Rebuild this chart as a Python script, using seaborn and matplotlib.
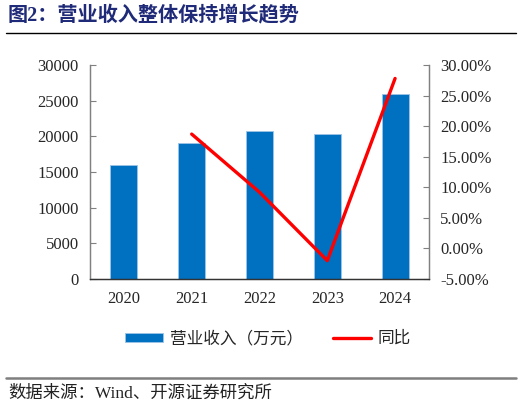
import matplotlib
matplotlib.use("Agg")
import matplotlib.pyplot as plt
from matplotlib.lines import Line2D
from matplotlib.patches import Patch
from matplotlib.ticker import FuncFormatter, FixedLocator
import seaborn as sns
import pandas as pd

# dados do gráfico
years = ["2020", "2021", "2022", "2023", "2024"]
revenue = [16000, 19000, 20750, 20330, 26000]
yoy_years = ["2021", "2022", "2023", "2024"]
yoy = [18.7, 9.2, -2.0, 27.8]

sns.set_style("white")
plt.rcParams["font.family"] = ["Liberation Serif", "Noto Sans CJK SC"]

df = pd.DataFrame({"year": years, "revenue": revenue})
df_line = pd.DataFrame({"pos": [years.index(y) for y in yoy_years], "yoy": yoy})

fig = plt.figure(figsize=(5.22, 4.07), dpi=100)
ax = fig.add_axes([0.1724, 0.3145, 0.6494, 0.5258])

sns.barplot(data=df, x="year", y="revenue", color="#0070C0", saturation=1,
            width=0.4, edgecolor="#9DC3E6", linewidth=0.6, ax=ax)
ax.set_xlim(-0.5, 4.5)
ax.set_ylim(0, 30000)
ax.set_yticks(range(0, 30001, 5000))
ax.set_xlabel("")
ax.set_ylabel("")

ax2 = ax.twinx()
sns.lineplot(data=df_line, x="pos", y="yoy", color="#FF0000", linewidth=2.4, ax=ax2)
ax2.set_ylim(-5, 30)
ax2.set_yticks(range(-5, 31, 5))
ax2.yaxis.set_major_formatter(FuncFormatter(lambda v, p: f"{v:.2f}%"))
ax2.set_xlabel("")
ax2.set_ylabel("")

for a in (ax, ax2):
    a.spines["top"].set_visible(False)
    for s in ("left", "right"):
        a.spines[s].set_color("#808080")
        a.spines[s].set_linewidth(0.9)
    a.spines["bottom"].set_color("#333333")
    a.spines["bottom"].set_linewidth(0.9)

ax.tick_params(axis="y", direction="in", length=4, color="#808080", labelsize=12, pad=8)
ax2.tick_params(axis="y", direction="in", length=4, color="#808080", labelsize=12, pad=8)
ax.tick_params(axis="x", which="major", length=0, labelsize=12, pad=9)
ax.xaxis.set_minor_locator(FixedLocator([0.5, 1.5, 2.5, 3.5]))
ax.tick_params(axis="x", which="minor", direction="in", length=4, color="#333333")

# legenda
handles = [Patch(facecolor="#0070C0", edgecolor="#9DC3E6", linewidth=0.6),
           Line2D([], [], color="#FF0000", linewidth=2.4)]
fig.legend(handles, ["营业收入（万元）", "同比"], loc="center", ncol=2,
           bbox_to_anchor=(0.513, 0.167), frameon=False, fontsize=12,
           handlelength=2.3, handleheight=0.45, columnspacing=1.8, handletextpad=0.4)

# título e fonte
fig.text(0.015, 0.963, "图2：营业收入整体保持增长趋势", fontsize=14.5, fontweight="bold",
         color="#1F2A78", va="center", ha="left")
fig.add_artist(Line2D([0.012, 0.988], [0.919, 0.919], color="black", linewidth=1.0))
fig.add_artist(Line2D([0.012, 0.988], [0.071, 0.071], color="#7f7f7f", linewidth=1.8))
fig.text(0.015, 0.032, "数据来源：Wind、开源证券研究所", fontsize=12.5, color="#222222",
         va="center", ha="left")

fig.savefig("out.png", dpi=100)
